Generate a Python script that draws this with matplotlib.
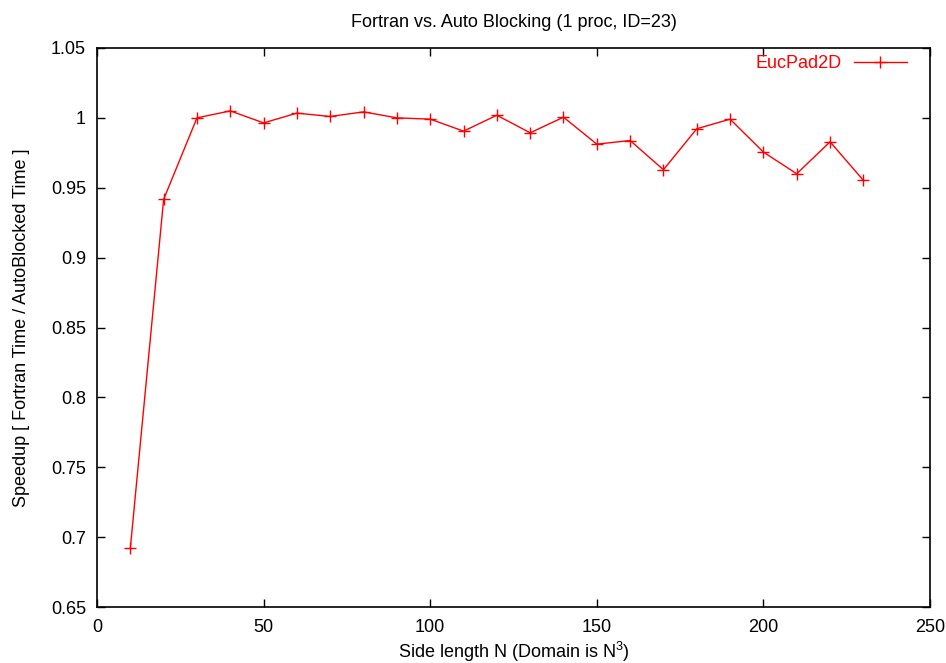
import matplotlib
matplotlib.use("Agg")
import matplotlib.pyplot as plt

plt.rcParams['font.family'] = ['Liberation Sans', 'DejaVu Sans']
plt.rcParams['mathtext.fontset'] = 'custom'
plt.rcParams['mathtext.rm'] = 'Liberation Sans'

side_n = [10, 20, 30, 40, 50, 60, 70, 80, 90, 100, 110, 120, 130, 140, 150,
          160, 170, 180, 190, 200, 210, 220, 230]
speedup = [0.692, 0.9417, 1.000, 1.005, 0.9964, 1.0034, 1.001, 1.0043, 1.000,
           0.9991, 0.9905, 1.0019, 0.9893, 1.0005, 0.9812, 0.9838, 0.9629,
           0.9922, 0.9991, 0.9755, 0.960, 0.9829, 0.9553]
series_name = "EucPad2D"
x_ticks = [0, 50, 100, 150, 200, 250]
y_ticks = [0.65, 0.7, 0.75, 0.8, 0.85, 0.9, 0.95, 1.0, 1.05]
y_tick_labels = ["0.65", "0.7", "0.75", "0.8", "0.85", "0.9", "0.95", "1", "1.05"]

FS = 13

fig = plt.figure(figsize=(9.46, 6.63), dpi=100)
ax = fig.add_axes([97 / 946, 1 - 607 / 663, (930 - 97) / 946, (607 - 48) / 663])

ax.plot(side_n, speedup, color='#ff0000', lw=1.0, marker='+', ms=8, mew=1.0,
        label=series_name)

ax.set_xlim(0, 250)
ax.set_ylim(0.65, 1.05)
ax.set_xticks(x_ticks)
ax.set_yticks(y_ticks)
ax.set_yticklabels(y_tick_labels)
ax.tick_params(direction='in', length=6, width=1, top=True, right=True,
               labelsize=FS)
ax.tick_params(axis='x', pad=9)
ax.tick_params(axis='y', pad=8)
for s in ax.spines.values():
    s.set_linewidth(1.2)

ax.set_title("Fortran vs. Auto Blocking (1 proc, ID=23)", fontsize=FS, pad=15)
ax.set_xlabel("Side length N (Domain is N$\\mathregular{^3}$)", fontsize=FS)
ax.set_ylabel("Speedup [ Fortran Time / AutoBlocked Time ]", fontsize=FS)
ax.xaxis.set_label_coords(0.5, -0.059)
ax.yaxis.set_label_coords(-0.080, 0.5)

leg = ax.legend(loc='upper right', bbox_to_anchor=(0.981, 1.0), frameon=False,
                markerfirst=False, fontsize=FS, handlelength=2.93,
                handletextpad=0.67, borderaxespad=0.0)
for t in leg.get_texts():
    t.set_color('#ff0000')

fig.savefig("out.png", dpi=100)
